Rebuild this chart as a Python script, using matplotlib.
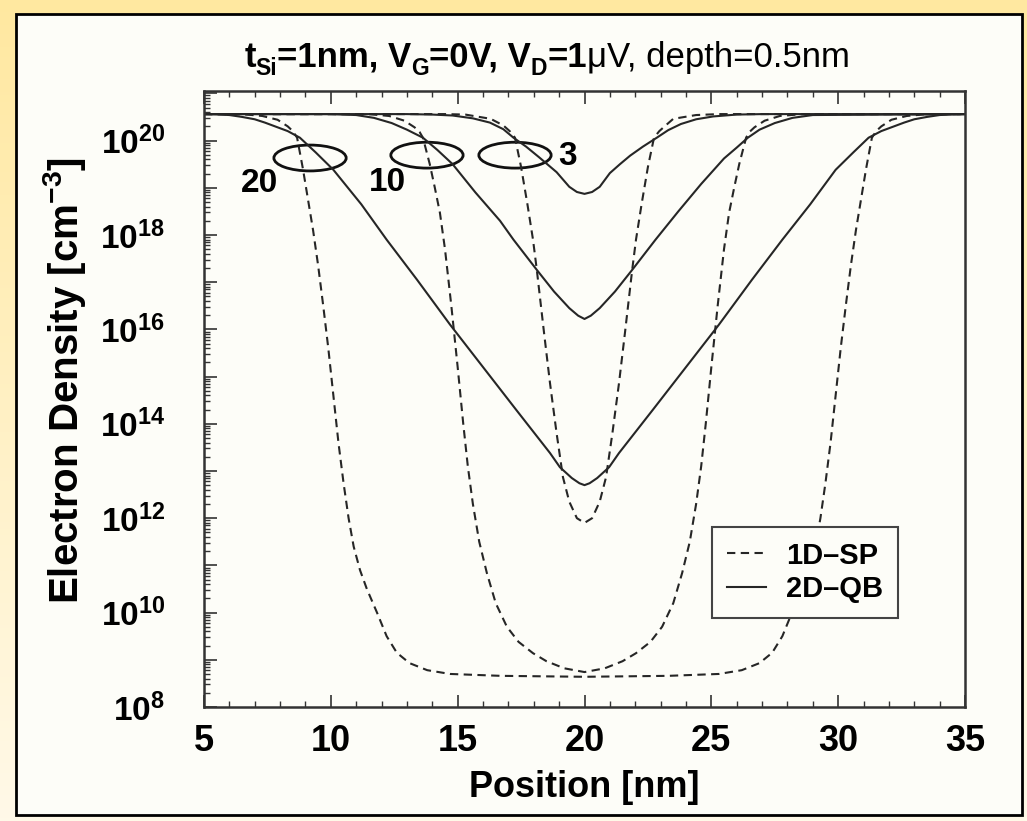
import matplotlib
matplotlib.use("Agg")
import matplotlib.pyplot as plt
import numpy as np
from matplotlib.patches import Ellipse, Rectangle
from matplotlib.lines import Line2D
from matplotlib.ticker import LogLocator, MultipleLocator, NullFormatter, FuncFormatter

plt.rcParams["font.family"] = ["Liberation Sans", "DejaVu Sans"]
plt.rcParams["mathtext.fontset"] = "custom"
plt.rcParams["mathtext.rm"] = "Liberation Sans"
plt.rcParams["mathtext.bf"] = "Liberation Sans:bold"

# ---- data: position [nm], log10(electron density [cm^-3])
# 1D-SP (dashed), channel length 20 nm
sp20_x = [5, 6.5, 7.3, 7.9, 8.3, 8.5, 8.67, 8.9, 9.1, 9.3, 9.5, 9.7, 9.9, 10.1, 10.3, 10.5, 10.7,
          10.9, 11.15, 11.42, 11.82, 12.2, 12.6, 13.1, 13.8, 14.7, 16.7, 20, 23.3, 25.3, 26.2,
          26.9, 27.4, 27.8, 28.18, 28.58, 28.85, 29.1, 29.3, 29.5, 29.7, 29.9, 30.1, 30.3, 30.5,
          30.7, 30.9, 31.1, 31.33, 31.5, 31.7, 32.1, 32.7, 33.5, 35]
sp20_n = [20.56, 20.56, 20.52, 20.44, 20.3, 20.2, 20.06, 19.4, 18.75, 18.1, 17.35, 16.5, 15.6,
          14.6, 13.6, 12.75, 12.0, 11.4, 10.9, 10.5, 10.0, 9.5, 9.15, 8.93, 8.78, 8.7, 8.66, 8.64,
          8.66, 8.7, 8.78, 8.93, 9.15, 9.5, 10.0, 10.5, 10.9, 11.4, 12.0, 12.75, 13.6, 14.6, 15.6,
          16.5, 17.35, 18.1, 18.75, 19.4, 20.06, 20.2, 20.3, 20.44, 20.52, 20.56, 20.56]
# 1D-SP (dashed), 10 nm
sp10_x = [5, 11.5, 12.3, 12.9, 13.3, 13.5, 13.63, 13.9, 14.1, 14.3, 14.5, 14.75, 15.0, 15.22, 15.4,
          15.6, 15.85, 16.15, 16.5, 16.94, 17.4, 17.97, 18.5, 19.2, 20, 20.8, 21.5, 22.03, 22.6,
          23.06, 23.5, 23.85, 24.15, 24.4, 24.6, 24.78, 25.0, 25.25, 25.5, 25.7, 25.9, 26.1, 26.37,
          26.5, 26.7, 27.1, 27.7, 28.6, 35]
sp10_n = [20.56, 20.56, 20.52, 20.42, 20.28, 20.18, 20.06, 19.5, 19.0, 18.47, 17.7, 16.5, 15.2,
          14.0, 13.1, 12.3, 11.5, 10.84, 10.2, 9.7, 9.38, 9.14, 8.97, 8.82, 8.74, 8.82, 8.97, 9.14,
          9.38, 9.7, 10.2, 10.84, 11.5, 12.3, 13.1, 14.0, 15.2, 16.5, 17.7, 18.47, 19.0, 19.5,
          20.06, 20.18, 20.28, 20.42, 20.52, 20.56, 20.56]
# 1D-SP (dashed), 3 nm
sp3_x = [5, 14.5, 15.3, 16.3, 16.8, 17.05, 17.26, 17.5, 17.75, 17.97, 18.12, 18.4, 18.64, 18.9,
         19.15, 19.4, 19.7, 20, 20.3, 20.6, 20.85, 21.1, 21.36, 21.6, 21.88, 22.03, 22.25, 22.5,
         22.74, 22.95, 23.2, 23.5, 24.4, 25.3, 35]
sp3_n = [20.56, 20.56, 20.55, 20.46, 20.32, 20.2, 20.06, 19.44, 18.65, 17.9, 17.26, 15.95, 14.86,
         13.8, 12.87, 12.35, 12.0, 11.9, 12.0, 12.35, 12.87, 13.8, 14.86, 15.95, 17.26, 17.9,
         18.65, 19.44, 20.06, 20.2, 20.32, 20.46, 20.54, 20.56, 20.56]
# 2D-QB (solid), 20 nm
qb20_x = [5, 5.5, 6, 6.5, 7, 7.4, 7.8, 8.3, 8.78, 9.4, 10.1, 11.2, 12.2, 13.4, 14.7, 16.0, 17.3,
          18.64, 19.03, 19.5, 19.8, 20, 20.2, 20.5, 20.97, 21.36, 22.7, 24.0, 25.3, 26.6, 27.8,
          28.9, 29.9, 30.6, 31.2, 31.7, 32.2, 32.6, 33.0, 33.5, 34, 34.5, 35]
qb20_n = [20.56, 20.555, 20.54, 20.5, 20.45, 20.38, 20.3, 20.2, 20.06, 19.75, 19.38, 18.65, 17.9,
          17.05, 16.1, 15.2, 14.3, 13.38, 13.08, 12.85, 12.74, 12.7, 12.74, 12.85, 13.08, 13.38,
          14.3, 15.2, 16.1, 17.05, 17.9, 18.65, 19.38, 19.75, 20.06, 20.2, 20.3, 20.38, 20.45,
          20.5, 20.54, 20.555, 20.56]
# 2D-QB (solid), 10 nm
qb10_x = [5, 10, 11, 11.7, 12.4, 13.0, 13.63, 14.2, 14.8, 15.7, 16.67, 17.2, 18.12, 18.8, 19.4,
          19.75, 20, 20.25, 20.6, 21.2, 21.88, 22.8, 23.7, 24.6, 25.5, 26.0, 26.44, 26.9, 27.5,
          28.2, 29, 35]
qb10_n = [20.56, 20.56, 20.54, 20.48, 20.37, 20.23, 20.06, 19.8, 19.5, 18.9, 18.3, 17.9, 17.26,
          16.8, 16.45, 16.29, 16.22, 16.29, 16.45, 16.8, 17.26, 17.9, 18.5, 19.08, 19.62, 19.85,
          20.06, 20.23, 20.37, 20.48, 20.54, 20.56]
# 2D-QB (solid), 3 nm
qb3_x = [5, 13, 14, 14.8, 15.6, 16.27, 16.8, 17.2, 17.7, 18.2, 18.9, 19.4, 19.7, 20, 20.3, 20.6,
         21.0, 21.4, 21.8, 22.3, 22.85, 23.3, 23.8, 24.4, 25.07, 26, 27, 35]
qb3_n = [20.56, 20.56, 20.55, 20.53, 20.47, 20.38, 20.24, 20.06, 19.87, 19.65, 19.33, 19.02,
         18.91, 18.87, 18.91, 19.02, 19.31, 19.5, 19.68, 19.87, 20.06, 20.22, 20.35, 20.45,
         20.51, 20.55, 20.56, 20.56]

# annotation marks (ellipse centres) and their labels
ring_x = [9.18, 13.79, 17.26]
ring_n = [19.63, 19.69, 19.69]
ring_labels = ["20", "10", "3"]
label_x = [7.2, 12.25, 19.35]
label_n = [19.1, 19.12, 19.66]

W, H = 1027, 821
fig = plt.figure(figsize=(W / 100, H / 100), dpi=100)

# yellow gradient backdrop and the pale panel
bg = fig.add_axes([0, 0, 1, 1], zorder=-10)
grad = np.linspace(0, 1, 256).reshape(-1, 1)
c_top = np.array([255, 232, 160]) / 255
c_bot = np.array([255, 249, 232]) / 255
img = c_top[None, None, :] * (1 - grad[:, :, None]) + c_bot[None, None, :] * grad[:, :, None]
bg.imshow(img, aspect="auto", extent=[0, 1, 0, 1])
bg.add_patch(Rectangle((16 / W, 6 / H), (1022 - 16) / W, (815 - 14) / H, transform=bg.transAxes,
                       facecolor="#fdfdf8", edgecolor="black", lw=2))
bg.set_xlim(0, 1)
bg.set_ylim(0, 1)
bg.axis("off")

ax = fig.add_axes([204 / W, 1 - 707 / H, (965 - 204) / W, (707 - 91) / H])
ax.set_facecolor("#fdfdf8")

line_col = "#262626"
curves = [(sp20_x, sp20_n, "--"), (sp10_x, sp10_n, "--"), (sp3_x, sp3_n, "--"),
          (qb20_x, qb20_n, "-"), (qb10_x, qb10_n, "-"), (qb3_x, qb3_n, "-")]
for xs, ns, ls in curves:
    ln, = ax.plot(xs, 10 ** np.array(ns), color=line_col, lw=1.5, ls=ls)
    if ls == "--":
        ln.set_dashes((4, 2.6))

ax.set_yscale("log")
ax.set_xlim(5, 35)
ax.set_ylim(1e8, 1.12e21)

ax.xaxis.set_major_locator(MultipleLocator(5))
ax.xaxis.set_minor_locator(MultipleLocator(1))
ax.yaxis.set_major_locator(LogLocator(base=10, numticks=30))
ax.yaxis.set_minor_locator(LogLocator(base=10, subs=np.arange(2, 10), numticks=30))
ax.yaxis.set_minor_formatter(NullFormatter())
ax.yaxis.set_major_formatter(FuncFormatter(
    lambda v, p: r"$\mathbf{10^{%d}}$" % round(np.log10(v)) if round(np.log10(v)) % 2 == 0 else ""))

ax.tick_params(which="both", direction="in", top=True, right=False, color="#333333")
ax.tick_params(which="major", length=9, width=1.2)
ax.tick_params(which="minor", length=4.5, width=1.0)
ax.tick_params(axis="y", which="major", labelsize=24, pad=28)
ax.tick_params(axis="x", which="major", labelsize=26, pad=12)
for lab in ax.get_xticklabels():
    lab.set_fontweight("bold")
for s in ax.spines.values():
    s.set_color("#333333")
    s.set_linewidth(1.8)

ax.set_xlabel("Position [nm]", fontsize=26, fontweight="bold", labelpad=8)
ax.set_ylabel(r"Electron Density [cm$^{\mathbf{-3}}$]", fontsize=29, fontweight="bold")
ax.yaxis.set_label_coords(-0.152, 0.53)

# ellipses drawn in axes space so that they stay round on the log axis
for cx, cn in zip(ring_x, ring_n):
    pos = ax.transAxes.inverted().transform(ax.transData.transform((cx, 10 ** cn)))
    ax.add_patch(Ellipse(pos, 0.095, 0.042, transform=ax.transAxes, fill=False,
                         edgecolor="#111111", lw=2))
for lx, ly, txt in zip(label_x, label_n, ring_labels):
    ax.text(lx, 10 ** ly, txt, fontsize=24, fontweight="bold", ha="center", va="center")

handles = [Line2D([], [], color=line_col, lw=1.5, ls="--", dashes=(4, 2.6)),
           Line2D([], [], color=line_col, lw=1.5)]
leg = ax.legend(handles, ["1D\u2013SP", "2D\u2013QB"], loc="lower left",
                bbox_to_anchor=(0.6675, 0.1445), fancybox=False, framealpha=1,
                edgecolor="#444444", prop={"size": 21, "weight": "bold"},
                handlelength=1.35, handletextpad=0.7, labelspacing=0.2, borderpad=0.5,
                borderaxespad=0)
leg.get_frame().set_linewidth(1.5)
leg.get_frame().set_facecolor("#fdfdf8")

# title: bold part then regular part, with subscripts
fig.canvas.draw()
rend = fig.canvas.get_renderer()
pieces = [("t", "bold", 0), ("Si", "bold", 1), ("=1nm, V", "bold", 0), ("G", "bold", 1),
          ("=0V, V", "bold", 0), ("D", "bold", 1), ("=1", "bold", 0),
          ("\u03bcV, depth=0.5nm", "normal", 0)]
base_y = 1 - 67 / H
objs = []
for txt, wt, sub in pieces:
    t = fig.text(0, base_y - (8 / H if sub else 0), txt, fontsize=16.5 if sub else 25,
                 fontweight=wt, va="baseline", ha="left")
    objs.append(t)
widths = [o.get_window_extent(rend).width for o in objs]
x0 = 547 - sum(widths) / 2
for o, w in zip(objs, widths):
    o.set_x(x0 / W)
    x0 += w

fig.savefig("out.png", dpi=100)
